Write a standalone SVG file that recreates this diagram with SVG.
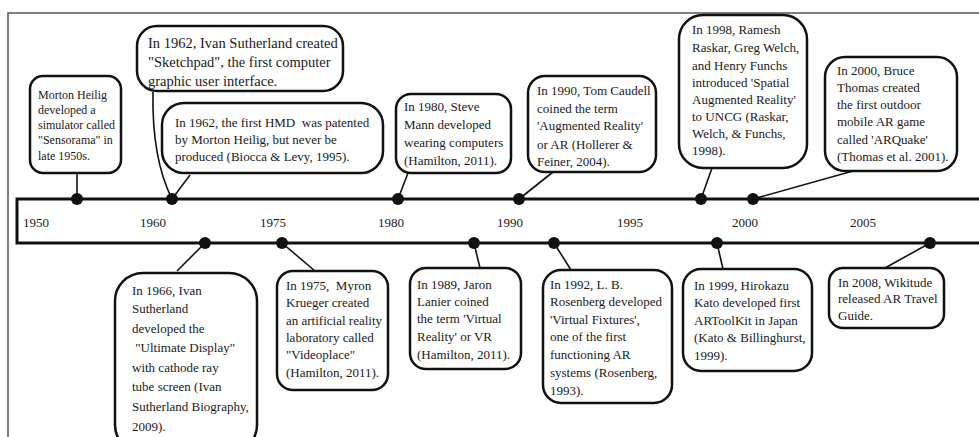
<svg xmlns="http://www.w3.org/2000/svg" width="979" height="437" viewBox="0 0 979 437">
<style>
.box{fill:#fff;stroke:#111;stroke-width:2.5}
.t{font-family:"Liberation Serif","Times New Roman",serif;font-size:13px;fill:#1a1a1a;white-space:pre}
.sm{font-size:12px}
.lg{font-size:14.5px}
.yr{font-family:"Liberation Serif","Times New Roman",serif;font-size:13px;fill:#1a1a1a}
.c{fill:none;stroke:#111;stroke-width:1.6}
.dot{fill:#111}
.bar{fill:none;stroke:#111;stroke-width:3}
</style>
<rect x="0" y="0" width="979" height="437" fill="#fff"/>
<path d="M8,437 V13 H979" fill="none" stroke="#555" stroke-width="1.5"/>
<g id="timeline">
<path class="bar" d="M979,199 H17 V243 H979"/>
<text class="yr" x="23" y="227">1950</text>
<text class="yr" x="140" y="227">1960</text>
<text class="yr" x="260" y="227">1975</text>
<text class="yr" x="378" y="227">1980</text>
<text class="yr" x="497" y="227">1990</text>
<text class="yr" x="617" y="227">1995</text>
<text class="yr" x="732" y="227">2000</text>
<text class="yr" x="850" y="227">2005</text>
</g>
<g id="connectors">
<path class="c" d="M77,173 V199"/>
<path class="c" d="M153,92 C152,140 160,175 172,199"/>
<path class="c" d="M190,175 L172,199"/>
<path class="c" d="M408,173 L398,199"/>
<path class="c" d="M553,172 L519,199"/>
<path class="c" d="M712,168 L701,199"/>
<path class="c" d="M853,171 L753,199"/>
<path class="c" d="M205,243 L177,271"/>
<path class="c" d="M282,243 L315,271"/>
<path class="c" d="M474,243 L480,268"/>
<path class="c" d="M554,243 L571,270"/>
<path class="c" d="M717,243 L723,269"/>
<path class="c" d="M930,243 L885,268"/>
<circle class="dot" cx="77" cy="199" r="6"/>
<circle class="dot" cx="172" cy="199" r="6"/>
<circle class="dot" cx="398" cy="199" r="6"/>
<circle class="dot" cx="519" cy="199" r="6"/>
<circle class="dot" cx="701" cy="199" r="6"/>
<circle class="dot" cx="753" cy="199" r="6"/>
<circle class="dot" cx="205" cy="243" r="6"/>
<circle class="dot" cx="282" cy="243" r="6"/>
<circle class="dot" cx="474" cy="243" r="6"/>
<circle class="dot" cx="554" cy="243" r="6"/>
<circle class="dot" cx="717" cy="243" r="6"/>
<circle class="dot" cx="930" cy="243" r="6"/>
</g>
<g id="n1957">
<rect class="box" x="30" y="76" width="91" height="97" rx="13"/>
<text class="t sm"><tspan x="38" y="98.5">Morton Heilig</tspan><tspan x="38" y="113.8">developed a</tspan><tspan x="38" y="129">simulator called</tspan><tspan x="38" y="144.3">"Sensorama" in</tspan><tspan x="38" y="159.5">late 1950s.</tspan></text>
</g>
<g id="n1962a">
<rect class="box" x="137" y="26" width="206" height="65" rx="20"/>
<text class="t lg"><tspan x="148" y="47.5">In 1962, Ivan Sutherland created</tspan><tspan x="148" y="67">"Sketchpad", the first computer</tspan><tspan x="148" y="85.5">graphic user interface.</tspan></text>
</g>
<g id="n1962b">
<rect class="box" x="162" y="103" width="221" height="70" rx="22"/>
<text class="t"><tspan x="175" y="127">In 1962, the first HMD  was patented</tspan><tspan x="175" y="144">by Morton Heilig, but never be</tspan><tspan x="175" y="161">produced (Biocca &amp; Levy, 1995).</tspan></text>
</g>
<g id="n1980">
<rect class="box" x="396" y="94" width="115" height="79" rx="15"/>
<text class="t"><tspan x="404" y="111">In 1980, Steve</tspan><tspan x="404" y="128.5">Mann developed</tspan><tspan x="404" y="146.5">wearing computers</tspan><tspan x="404" y="165">(Hamilton, 2011).</tspan></text>
</g>
<g id="n1990">
<rect class="box" x="528" y="76" width="128" height="96" rx="17"/>
<text class="t"><tspan x="537" y="95">In 1990, Tom Caudell</tspan><tspan x="537" y="112.5">coined the term</tspan><tspan x="537" y="130">'Augmented Reality'</tspan><tspan x="537" y="148.5">or AR (Hollerer &amp;</tspan><tspan x="537" y="166">Feiner, 2004).</tspan></text>
</g>
<g id="n1998">
<rect class="box" x="679" y="15" width="128" height="153" rx="24"/>
<text class="t"><tspan x="692" y="34">In 1998, Ramesh</tspan><tspan x="692" y="52">Raskar, Greg Welch,</tspan><tspan x="692" y="70">and Henry Funchs</tspan><tspan x="692" y="87">introduced 'Spatial</tspan><tspan x="692" y="104">Augmented Reality'</tspan><tspan x="692" y="121">to UNCG (Raskar,</tspan><tspan x="692" y="138">Welch, &amp; Funchs,</tspan><tspan x="692" y="155">1998).</tspan></text>
</g>
<g id="n2000">
<rect class="box" x="825" y="57" width="132" height="114" rx="20"/>
<text class="t"><tspan x="837" y="74.5">In 2000, Bruce</tspan><tspan x="837" y="91.5">Thomas created</tspan><tspan x="837" y="108.5">the first outdoor</tspan><tspan x="837" y="126">mobile AR game</tspan><tspan x="837" y="143.5">called 'ARQuake'</tspan><tspan x="837" y="161">(Thomas et al. 2001).</tspan></text>
</g>
<g id="n1966">
<rect class="box" x="115" y="273" width="142" height="180" rx="28"/>
<text class="t"><tspan x="132" y="294.5">In 1966, Ivan</tspan><tspan x="132" y="313">Sutherland</tspan><tspan x="132" y="332.5">developed the</tspan><tspan x="132" y="352"> "Ultimate Display"</tspan><tspan x="132" y="371.5">with cathode ray</tspan><tspan x="132" y="391">tube screen (Ivan</tspan><tspan x="132" y="411">Sutherland Biography,</tspan><tspan x="132" y="431">2009).</tspan></text>
</g>
<g id="n1975">
<rect class="box" x="277" y="271" width="111" height="119" rx="16"/>
<text class="t"><tspan x="286" y="289.5">In 1975,  Myron</tspan><tspan x="286" y="307">Krueger created</tspan><tspan x="286" y="324.5">an artificial reality</tspan><tspan x="286" y="342">laboratory called</tspan><tspan x="286" y="359">"Videoplace"</tspan><tspan x="286" y="377">(Hamilton, 2011).</tspan></text>
</g>
<g id="n1989">
<rect class="box" x="410" y="268" width="111" height="101" rx="16"/>
<text class="t"><tspan x="417" y="288.5">In 1989, Jaron</tspan><tspan x="417" y="306">Lanier coined</tspan><tspan x="417" y="323">the term 'Virtual</tspan><tspan x="417" y="341">Reality' or VR</tspan><tspan x="417" y="358.5">(Hamilton, 2011).</tspan></text>
</g>
<g id="n1992">
<rect class="box" x="543" y="270" width="129" height="133" rx="18"/>
<text class="t"><tspan x="550" y="288.5">In 1992, L. B.</tspan><tspan x="550" y="306">Rosenberg developed</tspan><tspan x="550" y="323.5">'Virtual Fixtures',</tspan><tspan x="550" y="341">one of the first</tspan><tspan x="550" y="358.5">functioning AR</tspan><tspan x="550" y="377">systems (Rosenberg,</tspan><tspan x="550" y="394.5">1993).</tspan></text>
</g>
<g id="n1999">
<rect class="box" x="683" y="269" width="129" height="102" rx="18"/>
<text class="t"><tspan x="694" y="289.5">In 1999, Hirokazu</tspan><tspan x="694" y="307">Kato developed first</tspan><tspan x="694" y="324.5">ARToolKit in Japan</tspan><tspan x="694" y="342">(Kato &amp; Billinghurst,</tspan><tspan x="694" y="359.5">1999).</tspan></text>
</g>
<g id="n2008">
<rect class="box" x="829" y="268" width="115" height="60" rx="14"/>
<text class="t"><tspan x="838" y="286.5">In 2008, Wikitude</tspan><tspan x="838" y="303">released AR Travel</tspan><tspan x="838" y="320">Guide.</tspan></text>
</g>
</svg>
